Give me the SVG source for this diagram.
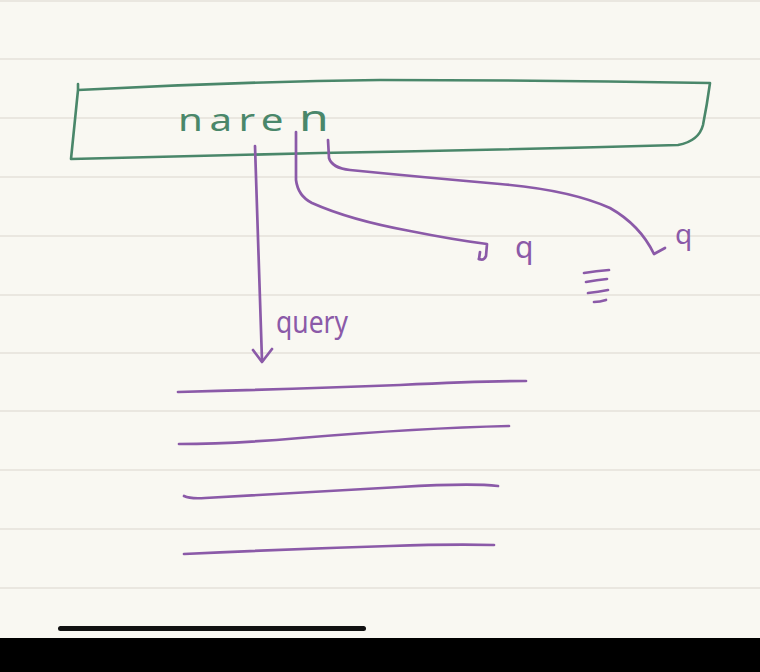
<svg xmlns="http://www.w3.org/2000/svg" width="760" height="672" viewBox="0 0 760 672">
<style>
.paper{fill:#f9f8f2}
.rule{stroke:#e4e2da;stroke-width:1.5;fill:none}
.g{stroke:#4a876a;stroke-width:2.6;fill:none;stroke-linecap:round;stroke-linejoin:round}
.p{stroke:#8b5aa8;stroke-width:2.7;fill:none;stroke-linecap:round;stroke-linejoin:round}
.gt{fill:#4a876a;font-family:"Noto Sans",sans-serif}
.pt{fill:#8b5aa8;font-family:"Noto Sans",sans-serif}
</style>
<rect class="paper" x="0" y="0" width="760" height="672"/>
<g id="paper-rules">
<line class="rule" x1="0" y1="1" x2="760" y2="1"/>
<line class="rule" x1="0" y1="59" x2="760" y2="59"/>
<line class="rule" x1="0" y1="118" x2="760" y2="118"/>
<line class="rule" x1="0" y1="177" x2="760" y2="177"/>
<line class="rule" x1="0" y1="236" x2="760" y2="236"/>
<line class="rule" x1="0" y1="295" x2="760" y2="295"/>
<line class="rule" x1="0" y1="353" x2="760" y2="353"/>
<line class="rule" x1="0" y1="411" x2="760" y2="411"/>
<line class="rule" x1="0" y1="470" x2="760" y2="470"/>
<line class="rule" x1="0" y1="529" x2="760" y2="529"/>
<line class="rule" x1="0" y1="588" x2="760" y2="588"/>
</g>
<g id="node-naren">
<path class="g" d="M78 84 L78 90 Q230 82 380 80 Q540 80 710 83 Q707 105 703 125 Q699 141 678 145 Q500 150 320 153 Q190 156 71 159 L78 90"/>
<text class="gt" transform="translate(178,131) scale(1.3,1)" x="0" y="0" font-size="31" letter-spacing="5">nare<tspan x="93" y="0" font-size="37" letter-spacing="0">n</tspan></text>
</g>
<g id="connectors">
<path class="p" d="M255 146 Q258 250 262 361"/>
<path class="p" d="M253 350 L262 362 L272 349"/>
<path class="p" d="M296 132 L296 180 Q298 196 312 203 Q350 220 410 231 Q455 240 487 244 L486 256 Q484 261 479 259"/>
<path class="p" d="M480 252 L479 259"/>
<path class="p" d="M328 140 L329 158 Q332 168 350 170 Q420 177 500 184 Q570 190 610 208 Q640 225 654 254 L665 248"/>
</g>
<g id="node-q1">
<text class="pt" x="515" y="258" font-size="30">q</text>
</g>
<g id="node-q2">
<text class="pt" x="675" y="244" font-size="28">q</text>
</g>
<g id="node-dots">
<path class="p" d="M584 273 Q596 271 609 270"/>
<path class="p" d="M586 282 Q597 280 607 279"/>
<path class="p" d="M588 293 Q598 292 608 290"/>
<path class="p" d="M594 302 Q600 302 606 300"/>
</g>
<g id="node-query">
<text class="pt" x="276" y="333" font-size="30" textLength="72" lengthAdjust="spacingAndGlyphs">query</text>
</g>
<g id="node-list">
<path class="p" d="M178 392 Q300 389 400 385 Q480 381 526 381"/>
<path class="p" d="M179 444 Q230 444 300 438 Q420 428 509 426"/>
<path class="p" d="M184 496 Q190 499 205 498 Q300 493 400 487 Q470 483 498 486"/>
<path class="p" d="M184 554 Q290 549 390 546 Q450 544 494 545"/>
</g>
<rect x="58" y="626" width="308" height="5" rx="2.5" fill="#111"/>
<rect x="0" y="638" width="760" height="34" fill="#000"/>
</svg>
